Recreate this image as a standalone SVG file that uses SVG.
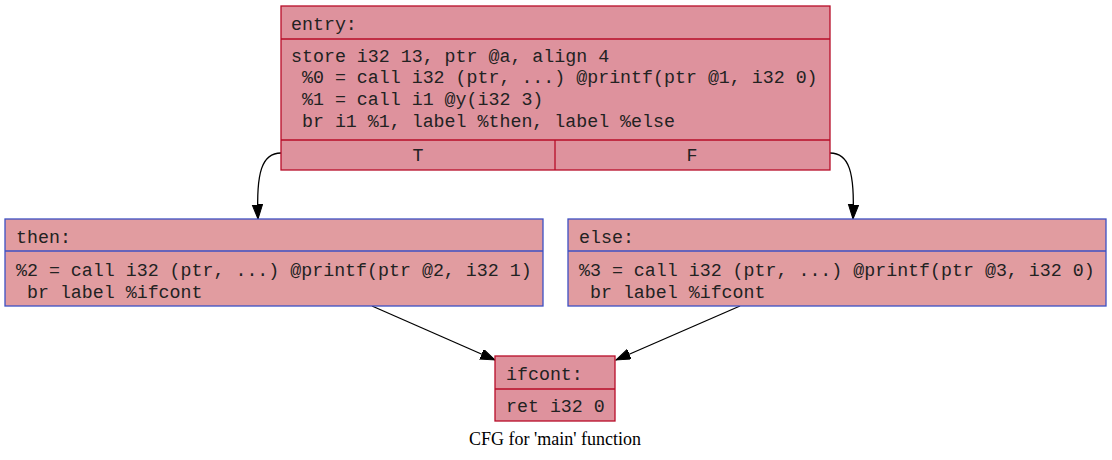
<svg xmlns="http://www.w3.org/2000/svg" width="1112" height="460" viewBox="0 0 1112 460">
<style>
.hot{fill:#de929d;stroke:#b70d28;stroke-width:1.3}
.warm{fill:#e19ca0;stroke:#3d50c3;stroke-width:1.3}
.hl{stroke:#b70d28;stroke-width:1.3}
.wl{stroke:#3d50c3;stroke-width:1.3}
.t{font-family:"Liberation Mono","Courier New",monospace;font-size:18.3px;fill:#222;white-space:pre}
.c{font-family:"Liberation Serif","Times New Roman",serif;font-size:18px;fill:#000}
.e{fill:none;stroke:#000;stroke-width:1.3}
</style>
<defs>
<marker id="ah" markerWidth="16" markerHeight="12" refX="14.5" refY="5.2" orient="auto" markerUnits="userSpaceOnUse">
<polygon points="0,0 14.5,5.2 0,10.4" fill="#000" stroke="#000" stroke-width="1"/>
</marker>
</defs>
<rect width="1112" height="460" fill="#fff"/>
<g id="connectors">
<path class="e" d="M281,153 C262,153 256,172 258,219" marker-end="url(#ah)"/>
<path class="e" d="M830,153 C849,153 855,172 853,219" marker-end="url(#ah)"/>
<path class="e" d="M372,306 L495,360" marker-end="url(#ah)"/>
<path class="e" d="M740,306 L616,360" marker-end="url(#ah)"/>
</g>
<g id="entry">
<rect class="hot" x="281" y="6" width="549" height="164"/>
<line class="hl" x1="281" y1="39" x2="830" y2="39"/>
<line class="hl" x1="281" y1="140" x2="830" y2="140"/>
<line class="hl" x1="555" y1="140" x2="555" y2="170"/>
<text class="t" x="291" y="30">entry:</text>
<text class="t" x="291" y="62">store i32 13, ptr @a, align 4</text>
<text class="t" x="291" y="83"> %0 = call i32 (ptr, ...) @printf(ptr @1, i32 0)</text>
<text class="t" x="291" y="105"> %1 = call i1 @y(i32 3)</text>
<text class="t" x="291" y="127"> br i1 %1, label %then, label %else</text>
<text class="t" x="418" y="161" text-anchor="middle">T</text>
<text class="t" x="692" y="161" text-anchor="middle">F</text>
</g>
<g id="then">
<rect class="warm" x="5" y="219" width="538" height="87"/>
<line class="wl" x1="5" y1="251" x2="543" y2="251"/>
<text class="t" x="16" y="243">then:</text>
<text class="t" x="16" y="276">%2 = call i32 (ptr, ...) @printf(ptr @2, i32 1)</text>
<text class="t" x="16" y="298"> br label %ifcont</text>
</g>
<g id="else">
<rect class="warm" x="568" y="219" width="538" height="87"/>
<line class="wl" x1="568" y1="251" x2="1106" y2="251"/>
<text class="t" x="579" y="243">else:</text>
<text class="t" x="579" y="276">%3 = call i32 (ptr, ...) @printf(ptr @3, i32 0)</text>
<text class="t" x="579" y="298"> br label %ifcont</text>
</g>
<g id="ifcont">
<rect class="hot" x="495" y="356" width="120" height="65"/>
<line class="hl" x1="495" y1="389" x2="615" y2="389"/>
<text class="t" x="506" y="380">ifcont:</text>
<text class="t" x="506" y="412">ret i32 0</text>
</g>
<text class="c" x="555" y="445" text-anchor="middle">CFG for 'main' function</text>
</svg>
